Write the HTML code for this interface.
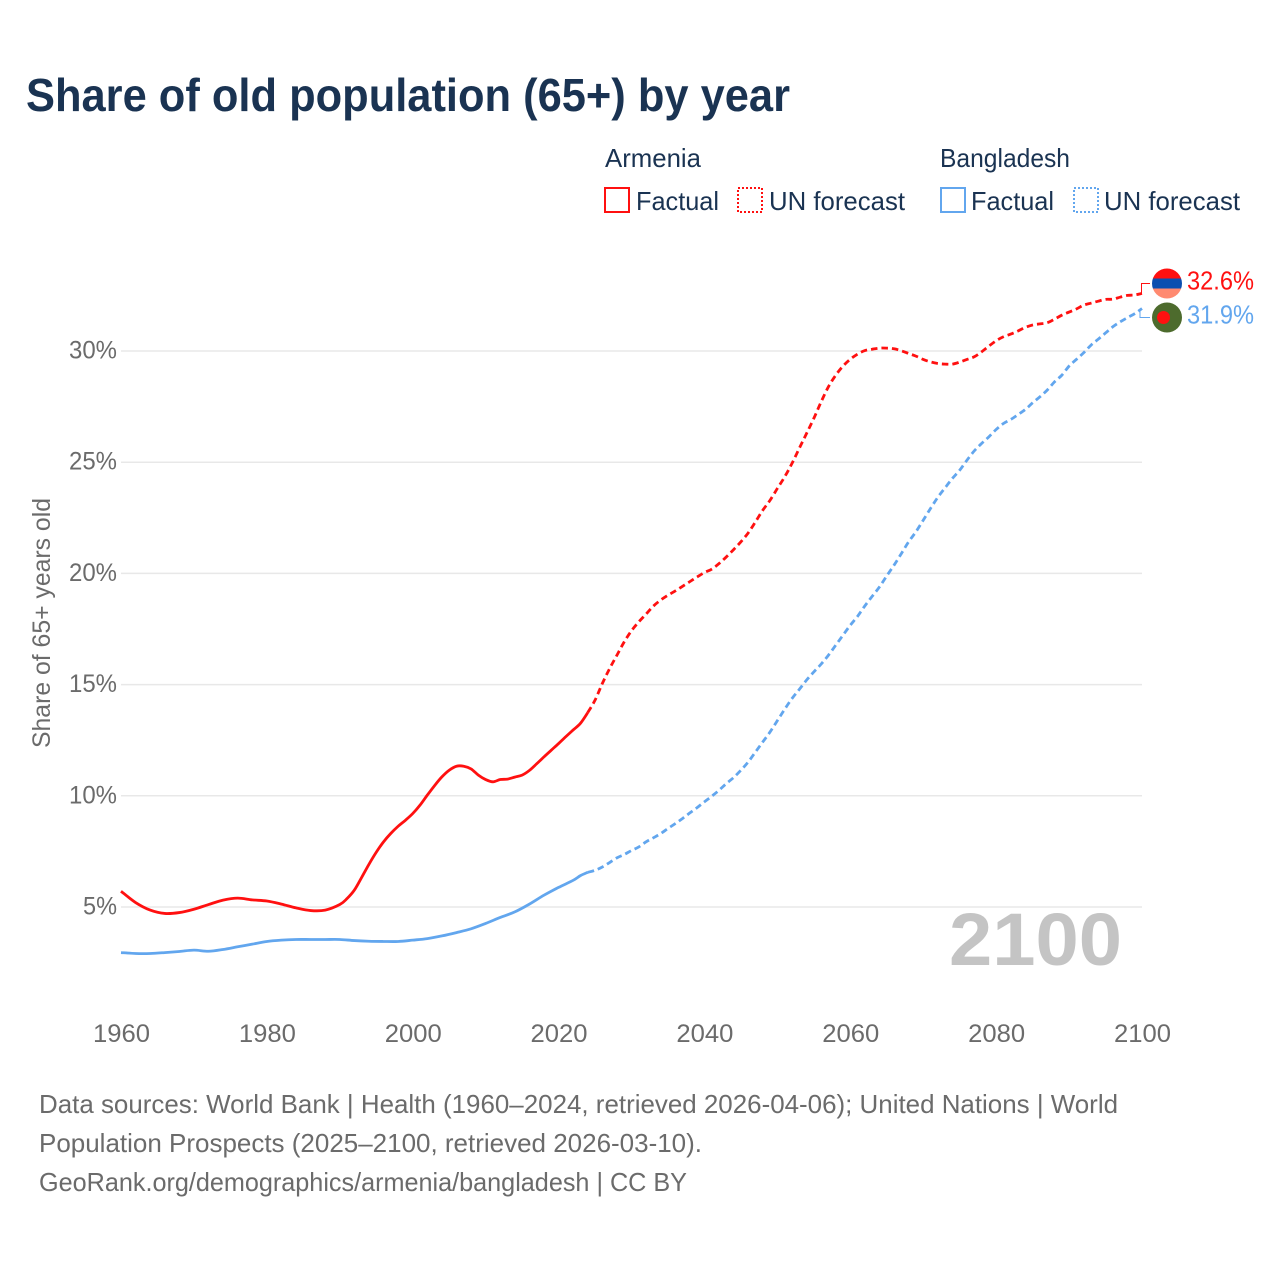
<!DOCTYPE html>
<html lang="en">
<head>
<meta charset="utf-8">
<title>Share of old population (65+) by year</title>
<style>
html,body{margin:0;padding:0;background:#fff;width:1280px;height:1280px;overflow:hidden}
svg{display:block}
text{font-family:"Liberation Sans",sans-serif}
</style>
</head>
<body>
<svg id="chart" xmlns="http://www.w3.org/2000/svg" width="1280" height="1280" viewBox="0 0 1280 1280">
  <defs>
    <clipPath id="clip-am"><circle cx="1167" cy="283.5" r="15"/></clipPath>
    <clipPath id="clip-bd"><circle cx="1167" cy="317.5" r="15"/></clipPath>
  </defs>
  <rect width="1280" height="1280" fill="#fff"/>
  <text x="26" y="111" font-size="46" font-weight="700" fill="#1a3352" textLength="764" lengthAdjust="spacingAndGlyphs">Share of old population (65+) by year</text>

  <g font-size="26" fill="#1a3352">
    <text x="605" y="167" textLength="96" lengthAdjust="spacingAndGlyphs">Armenia</text>
    <rect x="605" y="188" width="24" height="24" fill="none" stroke="#ff1010" stroke-width="2"/>
    <text x="636" y="210" textLength="83" lengthAdjust="spacingAndGlyphs">Factual</text>
    <rect x="738" y="188" width="24" height="24" fill="none" stroke="#ff1010" stroke-width="2" stroke-dasharray="2 2"/>
    <text x="769" y="210" textLength="136" lengthAdjust="spacingAndGlyphs">UN forecast</text>
    <text x="940" y="167" textLength="130" lengthAdjust="spacingAndGlyphs">Bangladesh</text>
    <rect x="941" y="188" width="24" height="24" fill="none" stroke="#62a6ee" stroke-width="2"/>
    <text x="971" y="210" textLength="83" lengthAdjust="spacingAndGlyphs">Factual</text>
    <rect x="1074" y="188" width="24" height="24" fill="none" stroke="#62a6ee" stroke-width="2" stroke-dasharray="2 2"/>
    <text x="1104" y="210" textLength="136" lengthAdjust="spacingAndGlyphs">UN forecast</text>
  </g>

  <g id="grid"></g>
  <g id="yticks"></g>
  <g id="xticks"></g>
  <text transform="translate(50,623) rotate(-90)" text-anchor="middle" font-size="25" fill="#6b6b6b" textLength="250" lengthAdjust="spacingAndGlyphs">Share of 65+ years old</text>

  <text x="949" y="965" font-size="74" font-weight="700" fill="#c4c4c4" textLength="173" lengthAdjust="spacingAndGlyphs">2100</text>

  <g id="series"></g>

  <g clip-path="url(#clip-am)">
    <rect x="1152" y="268" width="30" height="10.5" fill="#ff1010"/>
    <rect x="1152" y="278.5" width="30" height="10" fill="#0b4fb0"/>
    <rect x="1152" y="288.5" width="30" height="11" fill="#ff8a70"/>
  </g>
  <g clip-path="url(#clip-bd)">
    <rect x="1152" y="302" width="30" height="31" fill="#4d6b2d"/>
    <circle cx="1163.5" cy="317.5" r="6.5" fill="#ff1010"/>
  </g>

  <g id="endlabels"></g>

  <g font-size="26" fill="#6b6b6b">
    <text x="39" y="1113" textLength="1079" lengthAdjust="spacingAndGlyphs">Data sources: World Bank | Health (1960–2024, retrieved 2026-04-06); United Nations | World</text>
    <text x="39" y="1152" textLength="663" lengthAdjust="spacingAndGlyphs">Population Prospects (2025–2100, retrieved 2026-03-10).</text>
    <text x="39" y="1191" textLength="648" lengthAdjust="spacingAndGlyphs">GeoRank.org/demographics/armenia/bangladesh | CC BY</text>
  </g>
</svg>
<script>
const xTickYears = [1960,1980,2000,2020,2040,2060,2080,2100];
const yTickValues = [5,10,15,20,25,30];
const armeniaFactualYears = [1960,1962,1964,1966,1968,1970,1972,1974,1976,1978,1980,1982,1984,1986,1988,1990,1991,1992,1993,1994,1995,1996,1997,1998,1999,2000,2001,2002,2003,2004,2005,2006,2007,2008,2009,2010,2011,2012,2013,2014,2015,2016,2017,2018,2019,2020,2021,2022,2023,2024];
const armeniaFactualValues = [5.71,5.2,4.86,4.71,4.75,4.9,5.11,5.31,5.4,5.32,5.27,5.13,4.96,4.84,4.86,5.11,5.38,5.76,6.33,6.92,7.46,7.93,8.31,8.63,8.9,9.2,9.58,10.03,10.46,10.85,11.15,11.33,11.33,11.21,10.93,10.73,10.63,10.73,10.75,10.84,10.93,11.14,11.44,11.75,12.05,12.35,12.66,12.96,13.26,13.74];
const armeniaForecastStart = 2024;
const armeniaForecastValues = [13.74,14.3,15.05,15.72,16.32,16.92,17.42,17.82,18.17,18.53,18.8,19.02,19.21,19.42,19.63,19.84,20.04,20.19,20.44,20.74,21.07,21.42,21.82,22.32,22.84,23.29,23.82,24.34,24.94,25.62,26.29,26.97,27.71,28.39,28.91,29.32,29.63,29.86,30.02,30.08,30.13,30.13,30.1,30.01,29.89,29.77,29.62,29.51,29.44,29.41,29.41,29.5,29.62,29.74,29.96,30.22,30.46,30.64,30.76,30.9,31.06,31.17,31.22,31.27,31.43,31.61,31.75,31.89,32.06,32.15,32.24,32.32,32.33,32.42,32.5,32.52,32.59];
const bangladeshFactualYears = [1960,1962,1964,1966,1968,1970,1972,1974,1976,1978,1980,1982,1984,1986,1988,1990,1992,1994,1996,1998,2000,2002,2004,2006,2008,2010,2012,2014,2016,2018,2020,2022,2023,2024];
const bangladeshFactualValues = [2.95,2.91,2.91,2.95,3.0,3.06,3.01,3.09,3.21,3.33,3.45,3.51,3.54,3.54,3.54,3.54,3.49,3.46,3.45,3.45,3.51,3.58,3.7,3.85,4.02,4.26,4.53,4.78,5.13,5.53,5.88,6.2,6.41,6.56];
const bangladeshForecastStart = 2024;
const bangladeshForecastValues = [6.56,6.65,6.8,7.0,7.21,7.36,7.54,7.7,7.93,8.11,8.3,8.53,8.75,8.98,9.23,9.47,9.73,9.98,10.25,10.55,10.82,11.15,11.52,11.97,12.42,12.87,13.38,13.89,14.37,14.78,15.2,15.57,15.92,16.32,16.77,17.22,17.67,18.07,18.54,18.97,19.39,19.89,20.37,20.89,21.42,21.87,22.39,22.92,23.42,23.85,24.27,24.64,25.09,25.51,25.84,26.14,26.47,26.74,26.92,27.14,27.37,27.67,27.94,28.24,28.61,28.91,29.32,29.62,29.92,30.26,30.53,30.81,31.09,31.31,31.5,31.68,31.91];

const SVG_NS = 'http://www.w3.org/2000/svg';
function xScale(year){ return 121 + (year - 1960) * (1142 - 121) / 140; }
function yScale(v){ return 1018.2 - v * 22.24; }
function make(tag, parent, attrs){
  const el = document.createElementNS(SVG_NS, tag);
  for (const k in attrs) el.setAttribute(k, attrs[k]);
  parent.appendChild(el);
  return el;
}
function smoothPath(years, values){
  const p = years.map((yr, i) => [xScale(yr), yScale(values[i])]);
  let d = 'M' + p[0][0].toFixed(2) + ' ' + p[0][1].toFixed(2);
  for (let i = 0; i < p.length - 1; i++){
    const a = p[Math.max(i - 1, 0)], b = p[i], c = p[i + 1], e = p[Math.min(i + 2, p.length - 1)];
    const c1x = b[0] + (c[0] - a[0]) / 6, c1y = b[1] + (c[1] - a[1]) / 6;
    const c2x = c[0] - (e[0] - b[0]) / 6, c2y = c[1] - (e[1] - b[1]) / 6;
    d += 'C' + c1x.toFixed(2) + ' ' + c1y.toFixed(2) + ' ' + c2x.toFixed(2) + ' ' + c2y.toFixed(2) + ' ' + c[0].toFixed(2) + ' ' + c[1].toFixed(2);
  }
  return d;
}
const grid = document.getElementById('grid');
const yticks = document.getElementById('yticks');
const xticks = document.getElementById('xticks');
const seriesGroup = document.getElementById('series');
const endlabels = document.getElementById('endlabels');

yTickValues.forEach(function(v){
  const line = make('line', grid, {x1: 121, x2: 1142, y1: yScale(v), y2: yScale(v), stroke: '#e8e8e8', 'stroke-width': 1.5});
  
  
  const label = make('text', yticks, {x: 117, y: yScale(v) + 7.5, 'text-anchor': 'end', 'font-size': 25, fill: '#6b6b6b', textLength: v < 10 ? 34 : 48, lengthAdjust: 'spacingAndGlyphs'});
  label.textContent = v + '%';
  
  
});
xTickYears.forEach(function(yr){
  const label = make('text', xticks, {x: xScale(yr) + 0.5, y: 1042, 'text-anchor': 'middle', 'font-size': 25, fill: '#6b6b6b', textLength: 57, lengthAdjust: 'spacingAndGlyphs'});
  label.textContent = yr;
  
  
});

function yearRun(start, values){ return values.map(function(_, i){ return start + i; }); }

const armeniaFactual = make('path', seriesGroup, {d: smoothPath(armeniaFactualYears, armeniaFactualValues), fill: 'none', stroke: '#ff1010', 'stroke-width': 2.8, 'stroke-linejoin': 'round'});


const armeniaForecast = make('path', seriesGroup, {d: smoothPath(yearRun(armeniaForecastStart, armeniaForecastValues), armeniaForecastValues), fill: 'none', stroke: '#ff1010', 'stroke-width': 2.8, 'stroke-dasharray': '6.5 4'});


const bangladeshFactual = make('path', seriesGroup, {d: smoothPath(bangladeshFactualYears, bangladeshFactualValues), fill: 'none', stroke: '#62a6ee', 'stroke-width': 2.8, 'stroke-linejoin': 'round'});


const bangladeshForecast = make('path', seriesGroup, {d: smoothPath(yearRun(bangladeshForecastStart, bangladeshForecastValues), bangladeshForecastValues), fill: 'none', stroke: '#62a6ee', 'stroke-width': 2.8, 'stroke-dasharray': '6.5 4'});



const armeniaLast = armeniaForecastValues[armeniaForecastValues.length - 1];
const bangladeshLast = bangladeshForecastValues[bangladeshForecastValues.length - 1];

const connA = make('path', endlabels, {d: 'M' + (xScale(2100) - 0.5) + ' ' + yScale(armeniaLast) + 'V283.5H1150', fill: 'none', stroke: '#ff1010', 'stroke-width': 1});


const connB = make('path', endlabels, {d: 'M' + (xScale(2100) - 2) + ' ' + yScale(bangladeshLast) + 'V317.5H1150', fill: 'none', stroke: '#62a6ee', 'stroke-width': 1});



const endA = make('text', endlabels, {x: 1187, y: 289.5, 'font-size': 26, fill: '#ff1010', textLength: 67, lengthAdjust: 'spacingAndGlyphs'});
endA.textContent = armeniaLast.toFixed(1) + '%';


const endB = make('text', endlabels, {x: 1187, y: 323.5, 'font-size': 26, fill: '#62a6ee', textLength: 67, lengthAdjust: 'spacingAndGlyphs'});
endB.textContent = bangladeshLast.toFixed(1) + '%';


</script>
</body>
</html>
